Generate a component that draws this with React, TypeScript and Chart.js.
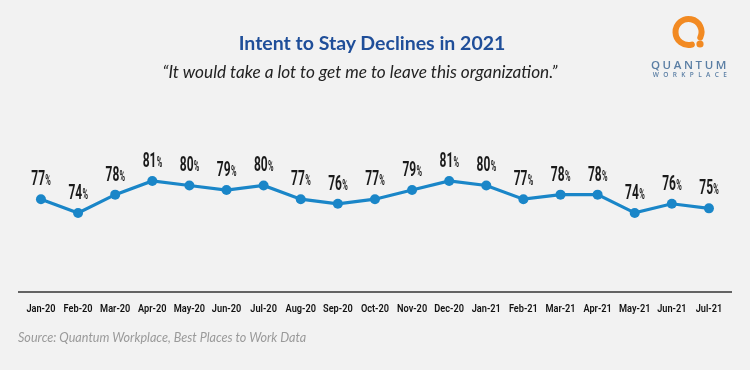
import React, { useEffect, useRef } from "react";
import { Chart, registerables } from "chart.js";

Chart.register(...registerables);

const categories = [
  "Jan-20", "Feb-20", "Mar-20", "Apr-20", "May-20", "Jun-20", "Jul-20", "Aug-20", "Sep-20", "Oct-20",
  "Nov-20", "Dec-20", "Jan-21", "Feb-21", "Mar-21", "Apr-21", "May-21", "Jun-21", "Jul-21",
];
const intentToStay = [77, 74, 78, 81, 80, 79, 80, 77, 76, 77, 79, 81, 80, 77, 78, 78, 74, 76, 75];

const titleText = "Intent to Stay Declines in 2021";
const subtitleText = "\u201cIt would take a lot to get me to leave this organization.\u201d";
const sourceText = "Source: Quantum Workplace, Best Places to Work Data";

const LINE_BLUE = "#1a86c8";

const labelPlugin = {
  id: "pctLabels",
  afterDatasetsDraw(chart: any) {
    const ctx = chart.ctx;
    const meta = chart.getDatasetMeta(0);
    const data = chart.data.datasets[0].data as number[];
    ctx.save();
    ctx.fillStyle = "#1a1a1a";
    ctx.textBaseline = "alphabetic";
    meta.data.forEach((pt: any, i: number) => {
      const num = String(data[i]);
      const sx = 0.6;
      const psx = 0.5;
      const numFont = "bold 20px Roboto";
      const pctFont = "bold 15px Roboto";
      ctx.font = numFont;
      const wNum = ctx.measureText(num).width * sx;
      ctx.font = pctFont;
      const wPct = ctx.measureText("%").width * psx;
      const total = wNum + wPct;
      const x0 = pt.x - total / 2;
      const y = pt.y - 14;
      ctx.save();
      ctx.translate(x0, y);
      ctx.scale(sx, 1);
      ctx.font = numFont;
      ctx.textAlign = "left";
      ctx.fillText(num, 0, 0);
      ctx.restore();
      ctx.save();
      ctx.translate(x0 + wNum + 0.3, y);
      ctx.scale(psx, 1);
      ctx.font = pctFont;
      ctx.textAlign = "left";
      ctx.fillText("%", 0, 0);
      ctx.restore();
    });
    ctx.restore();
  },
};

const axisPlugin = {
  id: "axisLineAndTicks",
  afterDraw(chart: any) {
    const { ctx, chartArea } = chart;
    const xScale = chart.scales.x;
    ctx.save();
    ctx.strokeStyle = "#333333";
    ctx.lineWidth = 1.5;
    ctx.beginPath();
    ctx.moveTo(18, chartArea.bottom);
    ctx.lineTo(732, chartArea.bottom);
    ctx.stroke();

    ctx.fillStyle = "#111111";
    ctx.font = "600 11.5px Roboto";
    ctx.textAlign = "center";
    ctx.textBaseline = "middle";
    const sx = 0.8;
    xScale.ticks.forEach((t: any, i: number) => {
      const x = xScale.getPixelForTick(i);
      const label = xScale.getLabelForValue(t.value);
      ctx.save();
      ctx.translate(x, chartArea.bottom + 17);
      ctx.scale(sx, 1);
      ctx.fillText(label, 0, 0);
      ctx.restore();
    });
    ctx.restore();
  },
};

function Logo() {
  const cx = 688.5;
  const cy = 32;
  const r = 13;
  const a1 = (25 * Math.PI) / 180;
  const a2 = (75 * Math.PI) / 180;
  const sx = cx + r * Math.cos(a2);
  const sy = cy + r * Math.sin(a2);
  const ex = cx + r * Math.cos(a1);
  const ey = cy + r * Math.sin(a1);
  return (
    <>
      <svg
        width={750}
        height={370}
        style={{ position: "absolute", left: 0, top: 0, pointerEvents: "none" }}
      >
        <path
          d={`M ${sx} ${sy} A ${r} ${r} 0 1 1 ${ex} ${ey}`}
          fill="none"
          stroke="#f28a22"
          strokeWidth={6}
          strokeLinecap="round"
        />
        <circle cx={700} cy={44} r={3.6} fill="#f28a22" />
      </svg>
      <div
        style={{
          position: "absolute",
          left: 648,
          top: 58,
          width: 84,
          textAlign: "center",
          fontFamily: "'Open Sans', sans-serif",
          fontSize: 11.5,
          fontWeight: 600,
          letterSpacing: 2.6,
          color: "#5a7ea4",
          lineHeight: "13px",
        }}
      >
        QUANTUM
      </div>
      <div
        style={{
          position: "absolute",
          left: 650,
          top: 71,
          width: 84,
          textAlign: "center",
          fontFamily: "'Open Sans', sans-serif",
          fontSize: 6.5,
          fontWeight: 600,
          letterSpacing: 4.4,
          color: "#5a7ea4",
          lineHeight: "8px",
        }}
      >
        WORKPLACE
      </div>
    </>
  );
}

export default function App() {
  const canvasRef = useRef<HTMLCanvasElement | null>(null);

  useEffect(() => {
    if (!canvasRef.current) return;
    const chart = new Chart(canvasRef.current, {
      type: "line",
      data: {
        labels: categories,
        datasets: [
          {
            data: intentToStay,
            borderColor: LINE_BLUE,
            backgroundColor: LINE_BLUE,
            borderWidth: 3.2,
            pointRadius: 5,
            pointBackgroundColor: LINE_BLUE,
            pointBorderWidth: 0,
            tension: 0,
          },
        ],
      },
      options: {
        responsive: false,
        animation: false,
        devicePixelRatio: 1,
        layout: { padding: { left: 22.4, right: 22.5, top: 100, bottom: 38 } },
        plugins: {
          legend: { display: false },
          tooltip: { enabled: false },
          title: { display: false },
        },
        scales: {
          x: {
            type: "category",
            offset: true,
            grid: { display: false, drawTicks: false },
            border: { display: false },
            ticks: { display: false, autoSkip: false },
            afterFit: (scale: any) => {
              scale.height = 40;
            },
          },
          y: {
            display: false,
            min: 56.7,
            max: 98.7,
          },
        },
      },
      plugins: [axisPlugin, labelPlugin],
    });
    return () => chart.destroy();
  }, []);

  return (
    <div
      style={{
        position: "absolute",
        left: 0,
        top: 0,
        width: 750,
        height: 370,
        background: "#f2f2f2",
        overflow: "hidden",
      }}
    >
      <canvas
        ref={canvasRef}
        width={750}
        height={370}
        style={{ position: "absolute", left: 0, top: 0, width: 750, height: 370 }}
      />
      <div
        style={{
          position: "absolute",
          left: 0,
          top: 31,
          width: 744,
          textAlign: "center",
          fontFamily: "Lato, sans-serif",
          fontWeight: 700,
          fontSize: 19.5,
          color: "#1f4e99",
          lineHeight: "24px",
        }}
      >
        {titleText}
      </div>
      <div
        style={{
          position: "absolute",
          left: 0,
          top: 62,
          width: 720,
          textAlign: "center",
          fontFamily: "Lato, sans-serif",
          fontStyle: "italic",
          fontSize: 17.2,
          color: "#222222",
          lineHeight: "20px",
        }}
      >
        {subtitleText}
      </div>
      <div
        style={{
          position: "absolute",
          left: 18,
          top: 329,
          fontFamily: "Lato, sans-serif",
          fontStyle: "italic",
          fontSize: 12.6,
          color: "#9a9a9a",
          lineHeight: "17px",
          whiteSpace: "nowrap",
        }}
      >
        {sourceText}
      </div>
      <Logo />
    </div>
  );
}
